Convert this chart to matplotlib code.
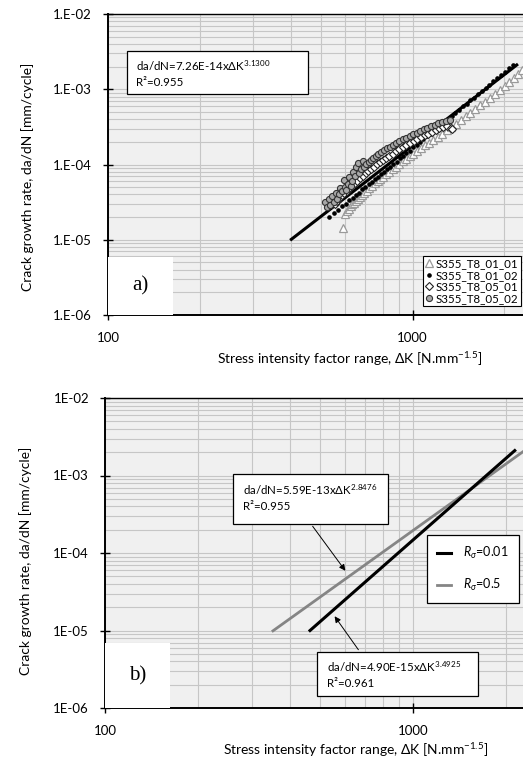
"""Fatigue crack growth rate vs stress intensity factor range, S355 steel."""
import numpy as np
import matplotlib.pyplot as plt
from matplotlib.patches import Rectangle
from matplotlib.transforms import Affine2D

plt.rcParams["font.family"] = ["Lato", "DejaVu Sans"]
plt.rcParams["mathtext.fontset"] = "custom"
plt.rcParams["mathtext.rm"] = "Lato"
plt.rcParams["mathtext.it"] = "Lato:italic"
plt.rcParams["mathtext.sf"] = "Lato"

# --- panel a) test data -------------------------------------------------------
dk_01_01 = [590, 600, 610, 618, 626, 634, 642, 650, 660, 670, 682, 695, 708, 722,
            737, 752, 768, 785, 802, 820, 840, 860, 882, 905, 928, 952, 978, 1005,
            1035, 1065, 1100, 1135, 1170, 1210, 1250, 1295, 1340, 1390, 1440, 1495,
            1550, 1610, 1670, 1735, 1800, 1870, 1940, 2010, 2080, 2150, 2220, 2290]
da_01_01 = [1.43e-5, 2.2e-5, 2.4e-5, 2.6e-5, 2.8e-5, 3.0e-5, 3.1e-5, 3.3e-5, 3.5e-5,
            3.7e-5, 3.9e-5, 4.2e-5, 4.5e-5, 4.8e-5, 5.2e-5, 5.6e-5, 6.0e-5, 6.4e-5,
            6.9e-5, 7.4e-5, 8.0e-5, 8.7e-5, 9.4e-5, 1.02e-4, 1.10e-4, 1.19e-4,
            1.29e-4, 1.40e-4, 1.52e-4, 1.65e-4, 1.80e-4, 1.96e-4, 2.14e-4, 2.35e-4,
            2.58e-4, 2.85e-4, 3.15e-4, 3.50e-4, 3.90e-4, 4.35e-4, 4.85e-4, 5.45e-4,
            6.1e-4, 6.85e-4, 7.7e-4, 8.7e-4, 9.8e-4, 1.10e-3, 1.24e-3, 1.40e-3,
            1.58e-3, 1.78e-3]

dk_01_02 = [532, 552, 570, 588, 604, 620, 636, 652, 668, 684, 700, 717, 734, 751,
            769, 787, 806, 825, 845, 866, 887, 909, 932, 955, 980, 1005, 1031, 1058,
            1086, 1115, 1145, 1176, 1208, 1241, 1275, 1310, 1346, 1384, 1423, 1463,
            1505, 1548, 1593, 1640, 1688, 1738, 1790, 1843, 1898, 1955, 2014, 2075,
            2140]
da_01_02 = [2.00e-5, 2.30e-5, 2.48e-5, 2.83e-5, 3.02e-5, 3.36e-5, 3.60e-5, 3.97e-5,
            4.24e-5, 4.67e-5, 4.96e-5, 5.46e-5, 5.82e-5, 6.37e-5, 6.80e-5, 7.46e-5,
            7.95e-5, 8.72e-5, 9.31e-5, 1.025e-4, 1.095e-4, 1.205e-4, 1.292e-4,
            1.42e-4, 1.53e-4, 1.685e-4, 1.81e-4, 2.00e-4, 2.16e-4, 2.38e-4, 2.58e-4,
            2.85e-4, 3.08e-4, 3.41e-4, 3.69e-4, 4.08e-4, 4.42e-4, 4.90e-4, 5.32e-4,
            5.90e-4, 6.42e-4, 7.12e-4, 7.76e-4, 8.63e-4, 9.42e-4, 1.048e-3, 1.145e-3,
            1.275e-3, 1.395e-3, 1.555e-3, 1.705e-3, 1.90e-3, 2.09e-3]

dk_05_01 = [555, 565, 575, 586, 597, 608, 620, 632, 645, 658, 672, 686, 701, 716,
            732, 748, 765, 783, 801, 820, 840, 861, 883, 906, 930, 955, 981, 1008,
            1036, 1065, 1095, 1126, 1158, 1191, 1225, 1260, 1296, 1333, 1345]
da_05_01 = [3.0e-5, 3.3e-5, 3.6e-5, 3.9e-5, 4.2e-5, 4.5e-5, 4.9e-5, 5.3e-5, 5.7e-5,
            6.1e-5, 6.6e-5, 7.1e-5, 7.6e-5, 8.2e-5, 8.8e-5, 9.4e-5, 1.01e-4, 1.08e-4,
            1.15e-4, 1.23e-4, 1.31e-4, 1.40e-4, 1.49e-4, 1.59e-4, 1.69e-4, 1.80e-4,
            1.92e-4, 2.04e-4, 2.17e-4, 2.30e-4, 2.44e-4, 2.58e-4, 2.73e-4, 2.88e-4,
            3.03e-4, 3.16e-4, 3.28e-4, 3.10e-4, 2.95e-4]

dk_05_02 = [515, 522, 530, 536, 545, 552, 560, 566, 574, 580, 588, 594, 600, 607,
            613, 620, 627, 634, 640, 646, 652, 660, 668, 676, 686, 695, 706, 718,
            730, 744, 758, 773, 789, 806, 824, 843, 863, 884, 906, 929, 953, 978,
            1004, 1031, 1059, 1088, 1118, 1150, 1183, 1217, 1252, 1288, 1325]
da_05_02 = [3.2e-5, 2.7e-5, 3.5e-5, 2.9e-5, 3.8e-5, 3.2e-5, 4.2e-5, 3.5e-5, 4.0e-5,
            4.9e-5, 4.4e-5, 6.2e-5, 5.0e-5, 4.6e-5, 5.5e-5, 6.8e-5, 5.2e-5, 6.0e-5,
            8.0e-5, 7.0e-5, 9.2e-5, 1.05e-4, 7.8e-5, 8.8e-5, 1.10e-4, 9.4e-5,
            1.02e-4, 1.08e-4, 1.15e-4, 1.22e-4, 1.30e-4, 1.38e-4, 1.46e-4, 1.55e-4,
            1.64e-4, 1.73e-4, 1.83e-4, 1.93e-4, 2.04e-4, 2.15e-4, 2.27e-4, 2.39e-4,
            2.52e-4, 2.65e-4, 2.79e-4, 2.93e-4, 3.08e-4, 3.23e-4, 3.38e-4, 3.53e-4,
            3.68e-4, 3.80e-4, 3.92e-4]

series_labels = ["S355_T8_01_01", "S355_T8_01_02", "S355_T8_05_01", "S355_T8_05_02"]

# Paris law fits  da/dN = C * dK^m
fit_a_C, fit_a_m, fit_a_r2 = 7.26e-14, 3.1300, 0.955
fit_a_dk = [400, 2200]

fit_r001_C, fit_r001_m, fit_r001_r2 = 4.90e-15, 3.4925, 0.961
fit_r001_dk = [463, 2140]
fit_r05_C, fit_r05_m, fit_r05_r2 = 5.59e-13, 2.8476, 0.955
fit_r05_dk = [351, 2600]

y_ticks = [1e-6, 1e-5, 1e-4, 1e-3, 1e-2]
y_labels_a = ["1.E-06", "1.E-05", "1.E-04", "1.E-03", "1.E-02"]
y_labels_b = ["1E-06", "1E-05", "1E-04", "1E-03", "1E-02"]
x_ticks = [100, 1000]
x_labels = ["100", "1000"]

YLABEL = "Crack growth rate, da/dN [mm/cycle]"
XLABEL = r"Stress intensity factor range, $\Delta$K [N.mm$^{-1.5}$]"

W, H = 523, 760
fig = plt.figure(figsize=(W / 100, H / 100), dpi=100)
# pixel coordinates measured from the top-left corner of the figure
px = Affine2D().scale(1 / W, -1 / H).translate(0, 1) + fig.transFigure


def frame(x0, y0, x1, y1):
    return [x0 / W, 1 - y1 / H, (x1 - x0) / W, (y1 - y0) / H]


def paris(C, m, dk):
    dk = np.asarray(dk, dtype=float)
    return C * dk ** m


def eq_text(C, m, r2):
    return f"da/dN={C:.2E}x$\\Delta$K$^{{{m:.4f}}}$\nR²={r2:.3f}"


def style_axes(ax, ylabels, xmax):
    ax.set_xscale("log")
    ax.set_yscale("log")
    ax.set_xlim(100, xmax)
    ax.set_ylim(1e-6, 1e-2)
    ax.set_facecolor("#f0f0f0")
    ax.set_axisbelow(True)
    ax.grid(True, which="both", color="#c6c6c6", linewidth=0.8)
    ax.set_yticks(y_ticks)
    ax.set_yticklabels(ylabels)
    ax.set_xticks(x_ticks)
    ax.set_xticklabels(x_labels)
    ax.tick_params(which="major", direction="inout", length=7, width=1,
                   labelsize=9.5, color="black")
    ax.tick_params(axis="x", pad=9)
    ax.tick_params(axis="y", pad=8)
    ax.tick_params(which="minor", length=0)
    ax.spines["right"].set_visible(False)
    ax.spines["left"].set_linewidth(1.4)
    ax.spines["bottom"].set_linewidth(1.4)
    ax.spines["top"].set_linewidth(1.0)


def text_box(ax, x0, y0, x1, y1, lines, tx, ty):
    ax.add_patch(Rectangle((x0, y0), x1 - x0, y1 - y0, transform=px,
                           facecolor="white", edgecolor="black", lw=0.9, zorder=6))
    ax.text(tx, ty, lines, transform=px, ha="left", va="center", fontsize=8.3,
            linespacing=1.45, zorder=7)


def panel_tag(ax, x0, y0, x1, y1, tag):
    ax.add_patch(Rectangle((x0, y0), x1 - x0, y1 - y0, transform=px,
                           facecolor="white", edgecolor="none", zorder=6))
    ax.text((x0 + x1) / 2, (y0 + y1) / 2, tag, transform=px, ha="center",
            va="center", fontsize=15, family="Liberation Serif", zorder=7)


# --- panel a) ----------------------------------------------------------------
ax_a = fig.add_axes(frame(108, 14, 523, 315))
style_axes(ax_a, y_labels_a, 10 ** (2 + 415 / 304.5))

ax_a.plot(fit_a_dk, paris(fit_a_C, fit_a_m, fit_a_dk), color="black", lw=2.2, zorder=2)
ax_a.plot(dk_01_01, da_01_01, "^", ms=5.5, mfc="white", mec="#9a9a9a", mew=0.9,
          label=series_labels[0], zorder=3)
ax_a.plot(dk_01_02, da_01_02, "o", ms=2.3, mfc="black", mec="black",
          label=series_labels[1], zorder=4)
ax_a.plot(dk_05_01, da_05_01, "D", ms=3.6, mfc="white", mec="#222222", mew=0.8,
          label=series_labels[2], zorder=4)
ax_a.plot(dk_05_02, da_05_02, "o", ms=4.4, mfc="#a8a8a8", mec="#333333", mew=0.8,
          label=series_labels[3], zorder=5)

text_box(ax_a, 127, 51, 308, 94, eq_text(fit_a_C, fit_a_m, fit_a_r2), 136, 73)
panel_tag(ax_a, 108, 257, 173, 315, "a)")

leg_a = ax_a.legend(loc="upper left", bbox_to_anchor=(423, 256), bbox_transform=px,
                    borderaxespad=0, fontsize=8.3, handlelength=0.6,
                    handletextpad=0.3, labelspacing=0.05, borderpad=0.2,
                    fancybox=False, framealpha=1, edgecolor="black")
leg_a.get_frame().set_linewidth(0.8)
leg_a.set_zorder(8)

ax_a.set_ylabel(YLABEL, fontsize=10, va="center")
ax_a.yaxis.set_label_coords(28, 177, transform=px)
ax_a.set_xlabel(XLABEL, fontsize=10, va="center")
ax_a.xaxis.set_label_coords(350, 359, transform=px)

# --- panel b) ----------------------------------------------------------------
ax_b = fig.add_axes(frame(105, 398, 523, 708))
style_axes(ax_b, y_labels_b, 10 ** (2 + 418 / 308))

ax_b.plot(fit_r05_dk, paris(fit_r05_C, fit_r05_m, fit_r05_dk), color="#858585",
          lw=2.0, label=r"$R_\sigma$=0.5", zorder=3)
ax_b.plot(fit_r001_dk, paris(fit_r001_C, fit_r001_m, fit_r001_dk), color="black",
          lw=2.2, label=r"$R_\sigma$=0.01", zorder=4)

text_box(ax_b, 233, 474, 388, 524, eq_text(fit_r05_C, fit_r05_m, fit_r05_r2), 243, 497)
text_box(ax_b, 317, 652, 478, 696, eq_text(fit_r001_C, fit_r001_m, fit_r001_r2),
         327, 674)
ax_b.annotate("", xy=(347, 573), xytext=(311, 524), xycoords=px, textcoords=px,
              arrowprops=dict(arrowstyle="-|>", color="black", lw=0.7,
                              mutation_scale=9), zorder=7)
ax_b.annotate("", xy=(333, 614), xytext=(360, 652), xycoords=px, textcoords=px,
              arrowprops=dict(arrowstyle="-|>", color="black", lw=0.7,
                              mutation_scale=9), zorder=7)
panel_tag(ax_b, 105, 643, 170, 708, "b)")

handles, labels = ax_b.get_legend_handles_labels()
leg_b = ax_b.legend(handles[::-1], labels[::-1], loc="upper left",
                    bbox_to_anchor=(427, 535), bbox_transform=px, borderaxespad=0,
                    fontsize=9, handlelength=1.1, handletextpad=1.0,
                    labelspacing=1.3, borderpad=0.8, fancybox=False, framealpha=1,
                    edgecolor="black")
leg_b.get_frame().set_linewidth(0.9)
leg_b.set_zorder(8)

ax_b.set_ylabel(YLABEL, fontsize=10, va="center")
ax_b.yaxis.set_label_coords(26, 561, transform=px)
ax_b.set_xlabel(XLABEL, fontsize=10, va="center")
ax_b.xaxis.set_label_coords(356, 750, transform=px)

fig.savefig("out.png", dpi=100)
